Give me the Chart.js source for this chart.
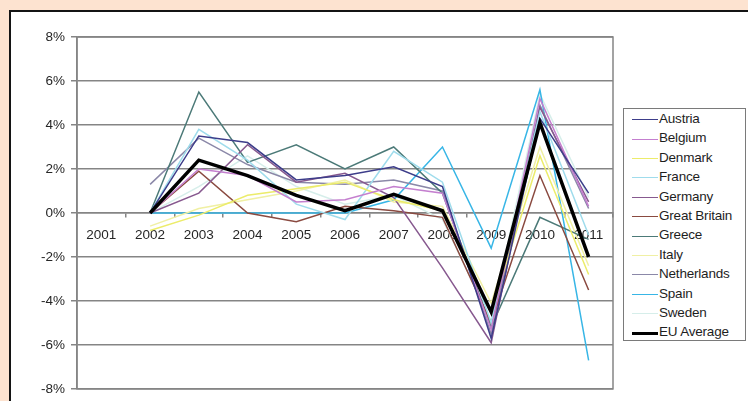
<!DOCTYPE html>
<html>
<head>
<meta charset="utf-8">
<script src="https://cdn.jsdelivr.net/npm/chart.js@4/dist/chart.umd.min.js"></script>
<style>
  html, body { margin: 0; padding: 0; }
  body {
    width: 748px; height: 401px; overflow: hidden; position: relative;
    background: #fde3d0;
    font-family: "Liberation Sans", Arial, sans-serif;
  }
  #frame {
    position: absolute; left: 9px; top: 10px; width: 760px; height: 420px;
    background: #ffffff; border: 2px solid #141414; box-sizing: border-box;
  }
  #plot {
    position: absolute; left: 12px; top: 13px; width: 610px; height: 390px;
  }
  #legend {
    position: absolute; left: 623px; top: 108px; width: 123px; height: 233px;
    border: 1px solid #7a7a7a; box-sizing: border-box; background: #fff;
    padding-top: 1px;
  }
  .item { position: relative; height: 19.4px; }
  .swatch { position: absolute; left: 8px; top: 9px; width: 26px; }
  .name {
    position: absolute; left: 35px; top: 1px; font-size: 13.5px; color: #1e1e1e;
    white-space: nowrap; letter-spacing: -0.2px;
  }
</style>
</head>
<body>
<div id="frame"></div>
<div id="plot"><canvas id="c"></canvas></div>
<div id="legend"></div>
<script>
// Year-on-year change, %, 2001-2011 (no values for 2001)
const years = ['2001', '2002', '2003', '2004', '2005', '2006', '2007', '2008', '2009', '2010', '2011'];

const austria      = [null, 0.0, 3.5, 3.2, 1.5, 1.7, 2.1, 1.2, -5.7, 4.3, 0.9];
const belgium      = [null, 0.0, 2.0, 1.7, 0.5, 0.6, 1.2, 0.9, -5.3, 5.2, 0.3];
const denmark      = [null, -0.8, -0.1, 0.8, 1.1, 1.4, 0.6, 0.1, -4.5, 2.6, -2.8];
const france       = [null, 0.0, 3.8, 2.4, 0.4, -0.3, 2.8, 1.4, -5.0, 4.6, -1.0];
const germany      = [null, 0.0, 0.9, 3.1, 1.4, 1.8, 0.7, -2.5, -5.9, 4.8, 0.5];
const greatBritain = [null, 0.0, 1.9, 0.0, -0.4, 0.3, 0.1, -0.2, -5.0, 1.7, -3.5];
const greece       = [null, 0.0, 5.5, 2.3, 3.1, 2.0, 3.0, 0.9, -5.2, -0.2, -1.2];
const italy        = [null, -0.6, 0.2, 0.6, 1.0, 1.5, 0.5, 0.3, -4.1, 3.0, -2.4];
const netherlands  = [null, 1.3, 3.4, 2.2, 1.4, 1.3, 1.5, 1.0, -5.5, 4.9, 0.2];
const spain        = [null, 0.0, 0.0, 0.0, 0.0, 0.0, 0.6, 3.0, -1.6, 5.6, -6.7];
const sweden       = [null, 0.0, 1.2, 2.6, 1.2, 0.4, 0.8, -0.3, -4.9, 5.4, 0.7];
const euAverage    = [null, 0.0, 2.4, 1.7, 0.8, 0.1, 0.85, 0.1, -4.5, 4.1, -2.0];

const yTicks = [-8, -6, -4, -2, 0, 2, 4, 6, 8];

const series = [
  { label: 'Austria',       data: austria,      color: '#3d3d8a', width: 1.5 },
  { label: 'Belgium',       data: belgium,      color: '#c47fcf', width: 1.5 },
  { label: 'Denmark',       data: denmark,      color: '#ecec6a', width: 1.5 },
  { label: 'France',        data: france,       color: '#9fdcec', width: 1.5 },
  { label: 'Germany',       data: germany,      color: '#87598f', width: 1.5 },
  { label: 'Great Britain', data: greatBritain, color: '#8a4a40', width: 1.5 },
  { label: 'Greece',        data: greece,       color: '#4c7a78', width: 1.5 },
  { label: 'Italy',         data: italy,        color: '#f0f0a4', width: 1.5 },
  { label: 'Netherlands',   data: netherlands,  color: '#8b88a8', width: 1.5 },
  { label: 'Spain',         data: spain,        color: '#38b6e6', width: 1.5 },
  { label: 'Sweden',        data: sweden,       color: '#d6eeea', width: 1.5 },
  { label: 'EU Average',    data: euAverage,    color: '#000000', width: 3.5 }
];

const gridGray = '#858585';
const labelFont = { family: '"Liberation Sans", Arial, sans-serif', size: 13.5 };

// outline around the plotting area
const plotFrame = {
  id: 'plotFrame',
  beforeDatasetsDraw(chart) {
    const { ctx, chartArea: a } = chart;
    ctx.save();
    ctx.strokeStyle = gridGray;
    ctx.lineWidth = 1.5;
    ctx.strokeRect(a.left, a.top, a.right - a.left, a.bottom - a.top);
    ctx.restore();
  }
};

const chart = new Chart(document.getElementById('c'), {
  type: 'line',
  data: {
    labels: years,
    datasets: series.map((s, i) => ({
      label: s.label,
      data: s.data,
      borderColor: s.color,
      backgroundColor: s.color,
      borderWidth: s.width,
      pointRadius: 0,
      tension: 0,
      fill: false,
      order: s.label === 'EU Average' ? -1 : i
    }))
  },
  options: {
    responsive: true,
    maintainAspectRatio: false,
    animation: false,
    layout: { padding: { left: 0, right: 9, top: 24, bottom: 7 } },
    plugins: { legend: { display: false }, tooltip: { enabled: false } },
    scales: {
      x: {
        type: 'category',
        position: { y: 0 },
        offset: true,
        grid: {
          offset: true, drawOnChartArea: false, drawTicks: true,
          tickLength: 4, color: gridGray, lineWidth: 1.5
        },
        border: { display: true, color: gridGray, width: 1.5 },
        ticks: { color: '#262626', font: labelFont, padding: 10, maxRotation: 0, autoSkip: false }
      },
      y: {
        min: yTicks[0],
        max: yTicks[yTicks.length - 1],
        afterBuildTicks(scale) { scale.ticks = yTicks.map(v => ({ value: v })); },
        afterFit(scale) { scale.width = 65; },
        grid: { color: gridGray, lineWidth: 1.5, tickLength: 6 },
        border: { display: true, color: gridGray, width: 1.5 },
        ticks: { color: '#262626', font: labelFont, padding: 6, callback: v => v + '%' }
      }
    }
  },
  plugins: [plotFrame]
});

// legend box built from the chart's datasets
const legend = document.getElementById('legend');
chart.data.datasets.forEach(ds => {
  const item = document.createElement('div');
  item.className = 'item';
  const sw = document.createElement('div');
  sw.className = 'swatch';
  sw.style.borderTop = ds.borderWidth + 'px solid ' + ds.borderColor;
  sw.style.top = (10 - ds.borderWidth / 2) + 'px';
  const name = document.createElement('div');
  name.className = 'name';
  name.textContent = ds.label;
  item.appendChild(sw);
  item.appendChild(name);
  legend.appendChild(item);
});
</script>
</body>
</html>
